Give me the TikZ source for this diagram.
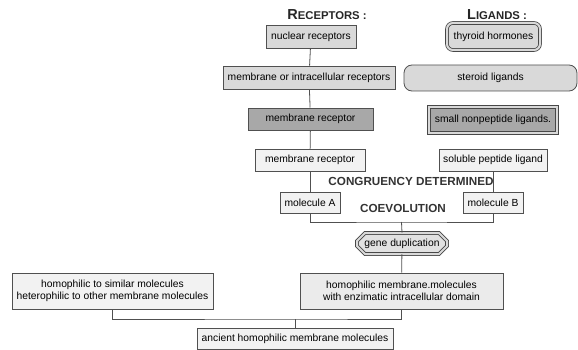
\documentclass[tikz,border=0pt]{standalone}
\usepackage{fontspec}
\setmainfont{Liberation Sans}
\usetikzlibrary{shapes.misc}
\definecolor{lightfill}{HTML}{F2F2F2}
\definecolor{midfill}{HTML}{D9D9D9}
\definecolor{darkfill}{HTML}{A8A8A8}
\definecolor{edge}{HTML}{505050}
\tikzset{
  box/.style={draw=edge, line width=0.8pt, rectangle, inner sep=0pt, align=center,
    font=\fontsize{10.3}{12.5}\selectfont},
  lightbox/.style={box, fill=lightfill},
  midbox/.style={box, fill=midfill},
  darkbox/.style={box, fill=darkfill},
  dblbox/.style={double=gray!30, double distance=2pt, draw=edge!90!black, line width=0.8pt},
  header/.style={font=\bfseries\fontsize{11.3}{13}\selectfont, text=black!85},
  caps/.style={font=\bfseries\fontsize{11.7}{13}\selectfont, text=black!80},
  conn/.style={draw=edge, line width=0.8pt},
}
\begin{document}
\begin{tikzpicture}[x=1pt,y=-1pt]
\useasboundingbox (0,0) rectangle (578,350);
% headers
\node[header] (hr) at (327,15) {{\fontsize{14.5}{15}\selectfont R}ECEPTORS :};
\node[header] (hl) at (497,15) {{\fontsize{14.5}{15}\selectfont L}IGANDS :};
% receptor column
\node[midbox, minimum width=90, minimum height=23] (nuc) at (311,36.5) {nuclear receptors};
\node[midbox, minimum width=172, minimum height=23] (mi) at (309,77.5) {membrane or intracellular receptors};
\node[darkbox, minimum width=125, minimum height=22] (mrd) at (310.5,119) {membrane receptor};
\node[lightbox, minimum width=110, minimum height=22] (mrl) at (310,160) {membrane receptor};
\node[lightbox, minimum width=60, minimum height=21] (ma) at (310,202.5) {molecule A};
% ligand column
\node[midbox, dblbox, rounded corners=6pt, minimum width=93, minimum height=27] (thy) at (493.5,36.5) {thyroid hormones};
\node[midbox, rounded corners=8pt, minimum width=173, minimum height=26] (ster) at (490.5,78) {steroid ligands};
\node[darkbox, dblbox, minimum width=128, minimum height=26] (snp) at (493,120) {small nonpeptide ligands.};
\node[lightbox, minimum width=108, minimum height=22] (sol) at (493,160) {soluble peptide ligand};
\node[lightbox, minimum width=60, minimum height=21] (mb) at (493,202.5) {molecule B};
% labels
\node[caps] (cong) at (411,181) {CONGRUENCY DETERMINED};
\node[caps] (coev) at (403,208) {COEVOLUTION};
% gene duplication
\node[box, fill=midfill!80!white, dblbox, chamfered rectangle, chamfered rectangle xsep=4pt, chamfered rectangle ysep=4pt, minimum width=90, minimum height=21] (gd) at (402,243.5) {gene duplication};
% bottom
\node[lightbox, minimum width=201, minimum height=36] (hs) at (112.5,291) {homophilic to similar molecules\\heterophilic to other membrane molecules};
\node[box, fill=black!8, minimum width=203, minimum height=36] (hm) at (401.5,291) {homophilic membrane.molecules\\with enzimatic intracellular domain};
\node[lightbox, minimum width=196, minimum height=21] (anc) at (295,338.5) {ancient homophilic membrane molecules};
% connectors
\coordinate (j1) at (401.5,222);
\coordinate (j2) at (295,319);
\draw[conn] (nuc) -- (mi);
\draw[conn] (mi) -- (mrd);
\draw[conn] (mrd) -- (mrl);
\draw[conn] (mrl) -- (ma);
\draw[conn] (sol) -- (mb);
\draw[conn] (ma.south) |- (j1) -| (mb.south);
\draw[conn] (j1) -- (gd.north);
\draw[conn] (gd) -- (hm);
\draw[conn] (hs.south) |- (j2) -| (hm.south);
\draw[conn] (j2) -- (anc.north);
\end{tikzpicture}
\end{document}
